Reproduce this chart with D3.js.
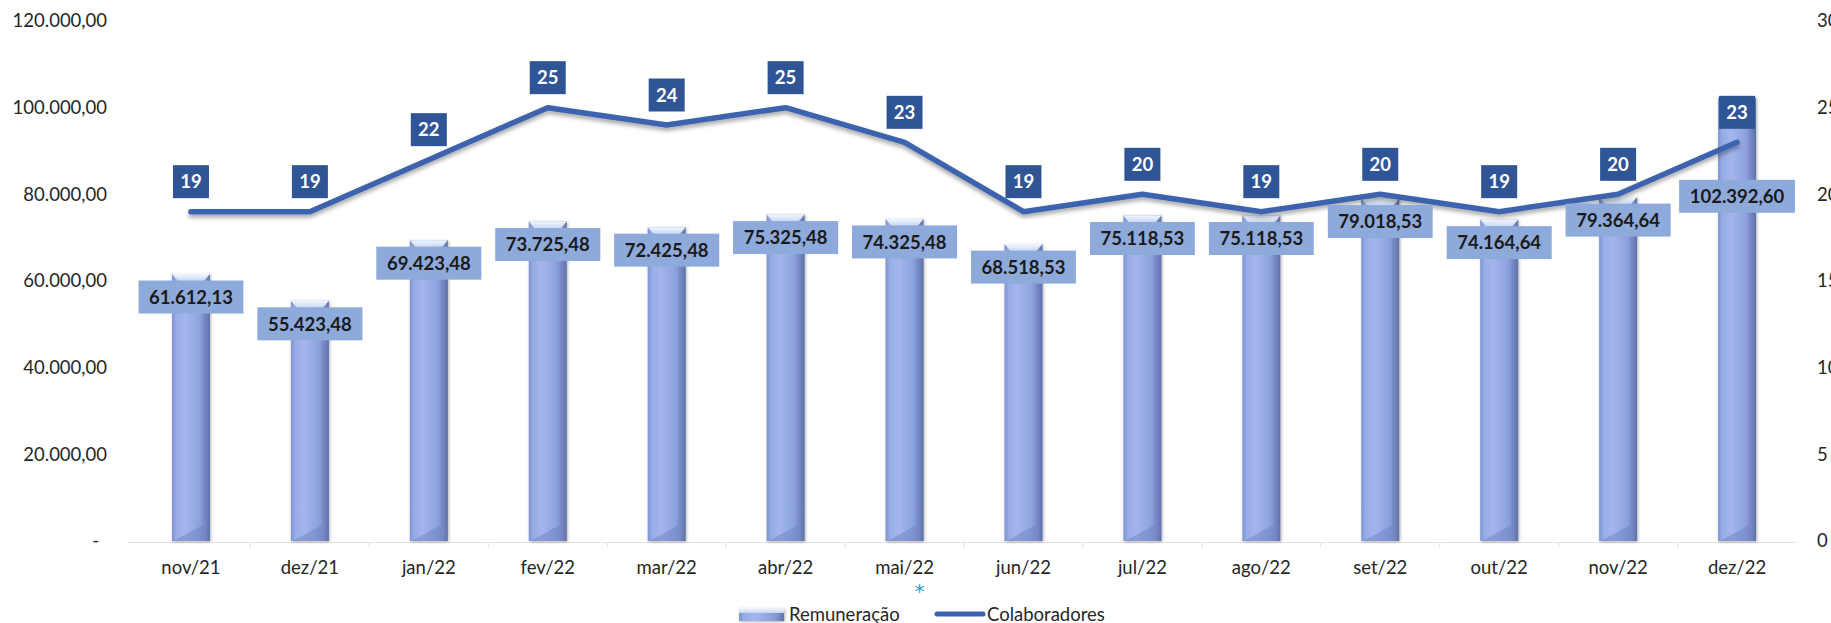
<!DOCTYPE html>
<html>
<head>
<meta charset="utf-8">
<script src="https://cdn.jsdelivr.net/npm/d3@7"></script>
<style>
  body { margin: 0; background: #fff; }
  text { font-family: Lato, "Open Sans", sans-serif; }
</style>
</head>
<body>
<div id="chart"></div>
<script>
const months = ["nov/21", "dez/21", "jan/22", "fev/22", "mar/22", "abr/22", "mai/22",
                "jun/22", "jul/22", "ago/22", "set/22", "out/22", "nov/22", "dez/22"];
const remuneracao = [61612.13, 55423.48, 69423.48, 73725.48, 72425.48, 75325.48, 74325.48,
                     68518.53, 75118.53, 75118.53, 79018.53, 74164.64, 79364.64, 102392.60];
const colaboradores = [19, 19, 22, 25, 24, 25, 23, 19, 20, 19, 20, 19, 20, 23];
const leftTicks = [0, 20000, 40000, 60000, 80000, 100000, 120000];
const rightTicks = [0, 5, 10, 15, 20, 25, 30];
const legendLabels = ["Remuneração", "Colaboradores"];

const W = 1831, H = 623;
const plotTop = 21, plotBottom = 541;

const svg = d3.select("#chart").append("svg")
    .attr("width", W)
    .attr("height", H);

const defs = svg.append("defs");

// bar body gradient (left highlight, darker right edge)
const g1 = defs.append("linearGradient").attr("id", "barGrad")
    .attr("x1", "0").attr("x2", "1").attr("y1", "0").attr("y2", "0");
[["0%", "#7d93d2"], ["12%", "#98ace6"], ["35%", "#a3b6ec"], ["70%", "#8fa3de"], ["88%", "#7c8fcb"], ["100%", "#5f71a8"]]
  .forEach(s => g1.append("stop").attr("offset", s[0]).attr("stop-color", s[1]));

const g2 = defs.append("linearGradient").attr("id", "capGrad")
    .attr("x1", "0").attr("x2", "0").attr("y1", "0").attr("y2", "1");
g2.append("stop").attr("offset", "0%").attr("stop-color", "#f2f7fd");
g2.append("stop").attr("offset", "100%").attr("stop-color", "#c6d6f1");

const f1 = defs.append("filter").attr("id", "lineShadow")
    .attr("x", "-5%").attr("y", "-50%").attr("width", "110%").attr("height", "200%");
f1.append("feDropShadow").attr("dx", 0).attr("dy", 3).attr("stdDeviation", 2)
    .attr("flood-color", "#000").attr("flood-opacity", 0.35);

const f2 = defs.append("filter").attr("id", "barShadow")
    .attr("x", "-30%").attr("y", "-10%").attr("width", "160%").attr("height", "120%");
f2.append("feDropShadow").attr("dx", 1).attr("dy", 1).attr("stdDeviation", 1.5)
    .attr("flood-color", "#000").attr("flood-opacity", 0.3);

const x = d3.scaleBand()
    .domain(months)
    .range([131.5, 1796.5])
    .padding(0);

const yL = d3.scaleLinear().domain([0, 120000]).range([plotBottom, plotTop]);
const yR = d3.scaleLinear().domain([0, 30]).range([plotBottom, plotTop]);

const ptBR = d3.formatLocale({ decimal: ",", thousands: ".", grouping: [3], currency: ["R$", ""] });
const fmt = ptBR.format(",.2f");

const cx = d => x(d) + x.bandwidth() / 2;
const barW = 38;

// left axis
const leftAxis = svg.append("g")
    .attr("transform", "translate(107,0)")
    .call(d3.axisLeft(yL).tickValues(leftTicks).tickSize(0).tickPadding(0)
      .tickFormat(d => d === 0 ? "-" : fmt(d)));
leftAxis.select(".domain").remove();
leftAxis.selectAll("text")
    .style("font-family", "Lato, sans-serif")
    .style("font-size", "18.5px")
    .attr("fill", "#262626")
    .attr("dx", d => d === 0 ? -8 : 0);

// right axis
const rightAxis = svg.append("g")
    .attr("transform", "translate(1817,0)")
    .call(d3.axisRight(yR).tickValues(rightTicks).tickSize(0).tickPadding(0));
rightAxis.select(".domain").remove();
rightAxis.selectAll("text")
    .style("font-family", "Lato, sans-serif")
    .style("font-size", "18.5px")
    .attr("fill", "#262626");

// category axis
const xAxis = svg.append("g")
    .attr("transform", "translate(0," + (plotBottom + 1.5) + ")")
    .call(d3.axisBottom(x).tickSize(0).tickPadding(18));
xAxis.select(".domain").remove();
xAxis.selectAll("text")
    .style("font-family", "Lato, sans-serif")
    .style("font-size", "18.5px")
    .attr("fill", "#262626");

svg.append("line")
    .attr("x1", 128).attr("x2", 1797)
    .attr("y1", plotBottom + 1.5).attr("y2", plotBottom + 1.5)
    .attr("stroke", "#e2e2e2").attr("stroke-width", 1.2);

svg.selectAll(".sep")
  .data(months.slice(1))
  .enter().append("line")
    .attr("x1", d => x(d)).attr("x2", d => x(d))
    .attr("y1", plotBottom + 1.5).attr("y2", plotBottom + 6)
    .attr("stroke", "#e2e2e2").attr("stroke-width", 1.2);

// bars
const bars = svg.selectAll(".bar")
  .data(months)
  .enter().append("g")
    .attr("class", "bar")
    .attr("filter", "url(#barShadow)");

bars.append("rect")
    .attr("x", d => cx(d) - barW / 2)
    .attr("y", (d, i) => yL(remuneracao[i]))
    .attr("width", barW)
    .attr("height", (d, i) => plotBottom - yL(remuneracao[i]))
    .attr("fill", "url(#barGrad)");

// top bevel
bars.append("polygon")
    .attr("points", (d, i) => {
      const l = cx(d) - barW / 2, r = cx(d) + barW / 2, t = yL(remuneracao[i]);
      return [[l, t], [r, t], [r - 6, t + 7], [l + 6, t + 7]].join(" ");
    })
    .attr("fill", "url(#capGrad)");

// bottom bevel
bars.append("polygon")
    .attr("points", d => {
      const l = cx(d) - barW / 2, r = cx(d) + barW / 2;
      return [[l + 2, plotBottom], [r - 7, plotBottom - 16], [r - 7, plotBottom]].join(" ");
    })
    .attr("fill", "#6a7cc0")
    .attr("opacity", 0.45);

// right bevel edge
bars.append("rect")
    .attr("x", d => cx(d) + barW / 2 - 7)
    .attr("y", (d, i) => yL(remuneracao[i]) + 7)
    .attr("width", 7)
    .attr("height", (d, i) => Math.max(0, plotBottom - yL(remuneracao[i]) - 7))
    .attr("fill", "#5d6ea6")
    .attr("opacity", 0.25);

// line
const line = d3.line()
    .x(d => cx(d))
    .y((d, i) => yR(colaboradores[i]));

svg.append("path")
    .datum(months)
    .attr("d", line)
    .attr("fill", "none")
    .attr("stroke", "#3d63ae")
    .attr("stroke-width", 5.5)
    .attr("stroke-linejoin", "round")
    .attr("stroke-linecap", "round")
    .attr("filter", "url(#lineShadow)");

// bar value labels
const labelDy = i => i === months.length - 1 ? 99 : 23;
const valLabels = svg.selectAll(".vlab")
  .data(months)
  .enter().append("g")
    .attr("class", "vlab")
    .attr("transform", (d, i) => "translate(" + cx(d) + "," + (yL(remuneracao[i]) + labelDy(i)) + ")");

valLabels.append("text")
    .attr("text-anchor", "middle")
    .attr("dy", "0.36em")
    .style("font-size", "18.5px")
    .style("font-weight", "bold")
    .attr("fill", "#1a1a1a")
    .text((d, i) => fmt(remuneracao[i]));

valLabels.each(function() {
  const g = d3.select(this);
  const bb = g.select("text").node().getBBox();
  g.insert("rect", "text")
    .attr("x", -bb.width / 2 - 10.5)
    .attr("y", -16.5)
    .attr("width", bb.width + 21)
    .attr("height", 33)
    .attr("fill", "#8eaadb");
});

// line value labels
const colLabels = svg.selectAll(".clab")
  .data(months)
  .enter().append("g")
    .attr("class", "clab")
    .attr("transform", (d, i) => "translate(" + cx(d) + "," + (yR(colaboradores[i]) - 30) + ")");

colLabels.append("rect")
    .attr("x", -18).attr("y", -16.5)
    .attr("width", 36).attr("height", 33)
    .attr("fill", "#2f5597");

colLabels.append("text")
    .attr("text-anchor", "middle")
    .attr("dy", "0.36em")
    .style("font-size", "18.5px")
    .style("font-weight", "bold")
    .attr("fill", "#ffffff")
    .text((d, i) => colaboradores[i]);

// small asterisk under mai/22
svg.append("text")
    .attr("x", cx("mai/22") + 15)
    .attr("y", 598)
    .attr("text-anchor", "middle")
    .style("font-family", "DejaVu Sans, sans-serif")
    .style("font-size", "20px")
    .attr("fill", "#1f9be0")
    .text("*");

// legend
const leg = svg.append("g");
leg.append("rect")
    .attr("x", 739).attr("y", 608).attr("width", 45).attr("height", 13)
    .attr("fill", "url(#barGrad)").attr("filter", "url(#barShadow)");
leg.append("rect")
    .attr("x", 739).attr("y", 608).attr("width", 45).attr("height", 5)
    .attr("fill", "url(#capGrad)");
leg.append("text")
    .attr("x", 789).attr("y", 614).attr("dy", "0.36em")
    .style("font-size", "18.5px").attr("fill", "#262626")
    .text(legendLabels[0]);
leg.append("line")
    .attr("x1", 937).attr("x2", 983).attr("y1", 614).attr("y2", 614)
    .attr("stroke", "#3d63ae").attr("stroke-width", 5).attr("stroke-linecap", "round");
leg.append("text")
    .attr("x", 987).attr("y", 614).attr("dy", "0.36em")
    .style("font-size", "18.5px").attr("fill", "#262626")
    .text(legendLabels[1]);
</script>
</body>
</html>
